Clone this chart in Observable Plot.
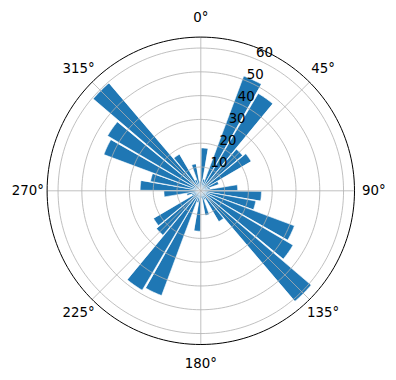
<!DOCTYPE html>
<html><head><meta charset="utf-8">
<script src="https://cdn.jsdelivr.net/npm/d3@7"></script>
<script src="https://cdn.jsdelivr.net/npm/@observablehq/plot@0.6"></script>
<style>body{margin:0;background:#fff;} svg{display:block}</style>
</head><body><div id="chart"></div>
<script>
// bin start angles (degrees, clockwise from north)
const binStarts = [0,10,20,30,40,50,60,70,80,90,100,110,120,130,140,150,160,170,
                   180,190,200,210,220,230,240,250,260,270,280,290,300,310,320,330,340,350];
const radii = [18,5,51.5,47.5,23,24.5,8,4,15.5,25.5,23.5,42,45,61,15,4,10.5,3,
               17,5,47,48.5,24.5,23,4,6,15.5,25.5,21.5,43.5,45.5,59.5,17.8,5,11.5,4];
const rTicks = [10,20,30,40,50,60];
const thetaTicks = [0,45,90,135,180,225,270,315];
const thetaLabels = ["0°","45°","90°","135°","180°","225°","270°","315°"];
const rMax = 64.6;
const binWidth = 10;
const barGap = 0.5;
const labelR = 72.7;
const rLabelAngle = 22.5;

const rad = d => d * Math.PI / 180;
const px = (r, t) => r * Math.sin(rad(t));
const py = (r, t) => r * Math.cos(rad(t));

// wedge outlines built from the data
const barPts = [];
binStarts.forEach((t0, i) => {
  const r = radii[i];
  const a0 = t0 + barGap, a1 = t0 + binWidth - barGap;
  barPts.push({bar: i, x: 0, y: 0});
  for (let k = 0; k <= 12; k++) {
    const a = a0 + (a1 - a0) * k / 12;
    barPts.push({bar: i, x: px(r, a), y: py(r, a)});
  }
});

const ringPts = [];
rTicks.concat([rMax]).forEach(r => {
  for (let k = 0; k < 360; k += 2) ringPts.push({ring: r, x: px(r, k), y: py(r, k)});
});

const font = "DejaVu Sans, sans-serif";

const chart = Plot.plot({
  width: 396,
  height: 380,
  marginLeft: 46.6,
  marginRight: 42,
  marginTop: 36.6,
  marginBottom: 36,
  x: {domain: [-rMax, rMax], axis: null},
  y: {domain: [-rMax, rMax], axis: null},
  style: {fontFamily: font, background: "#fff", overflow: "visible"},
  marks: [
    Plot.line(barPts, {x: "x", y: "y", z: "bar", fill: "#1f77b4", stroke: "white", strokeWidth: 0.6, curve: "linear-closed"}),
    Plot.line(ringPts.filter(d => d.ring !== rMax), {x: "x", y: "y", z: "ring", stroke: "#b0b0b0", strokeWidth: 0.8, curve: "linear-closed"}),
    Plot.link(thetaTicks, {x1: 0, y1: 0, x2: t => px(rMax, t), y2: t => py(rMax, t), stroke: "#b0b0b0", strokeWidth: 0.8}),
    Plot.line(ringPts.filter(d => d.ring === rMax), {x: "x", y: "y", z: "ring", stroke: "black", strokeWidth: 1, curve: "linear-closed"}),
    Plot.text(thetaTicks, {x: t => px(labelR, t), y: t => py(labelR, t), text: (t, i) => thetaLabels[i], fontSize: 13.33, fill: "black", textAnchor: "middle", lineAnchor: "middle"}),
    Plot.text(rTicks, {x: r => px(r, rLabelAngle), y: r => py(r, rLabelAngle), text: r => String(r), dx: 9, dy: -6.5, fontSize: 13.33, fill: "black", textAnchor: "middle", lineAnchor: "middle"})
  ]
});
document.getElementById("chart").appendChild(chart);
</script>
</body></html>
